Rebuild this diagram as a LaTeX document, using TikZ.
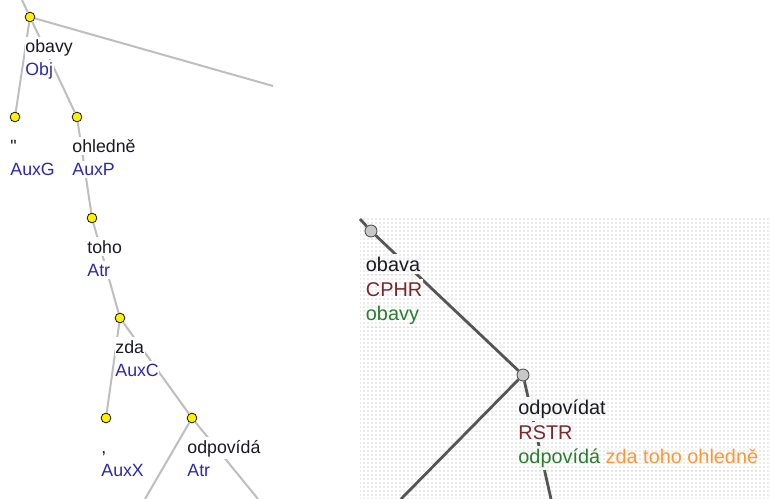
\documentclass[tikz,border=0pt]{standalone}
\usepackage{fontspec}
\setmainfont{Liberation Sans}
\newfontfamily\plainsans{Liberation Sans}
\usetikzlibrary{patterns}
\definecolor{ledge}{RGB}{190,190,190}
\definecolor{dedge}{RGB}{85,85,85}
\definecolor{afunblue}{RGB}{45,40,170}
\definecolor{txtdark}{RGB}{25,25,35}
\definecolor{tmaroon}{RGB}{120,40,45}
\definecolor{tgreen}{RGB}{40,125,45}
\definecolor{torange}{RGB}{255,150,50}
\definecolor{gnode}{RGB}{200,200,200}
\definecolor{dots}{RGB}{170,170,170}
\tikzset{
  anode/.style={circle,fill=yellow,draw=black,line width=0.55pt,minimum size=7.3pt,inner sep=0pt},
  tnode/.style={circle,fill=gnode,draw=dedge,line width=0.7pt,minimum size=9pt,inner sep=0pt},
  aedge/.style={draw=ledge,line width=1.5pt},
  tedge/.style={draw=dedge,line width=2.1pt},
  alab/.style={anchor=base west,inner xsep=0.5pt,inner ysep=2pt,fill=white,font=\fontsize{13.3pt}{16pt}\selectfont},
  tlab/.style={anchor=base west,inner xsep=0.5pt,inner ysep=2pt,preaction={fill=white},pattern=dots,pattern color=dots,font=\fontsize{14.9pt}{18pt}\selectfont},
}
\begin{document}
\begin{tikzpicture}[x=0.75pt,y=-0.75pt]
\useasboundingbox (0,0) rectangle (770,499);
\fill[white] (0,0) rectangle (770,499);
\path[pattern=dots,pattern color=dots] (360,218) rectangle (770,499);

% analytical tree nodes
\node[anode] (obavy) at (30,17) {};
\node[anode] (auxg) at (15,117) {};
\node[anode] (ohledne) at (77,117) {};
\node[anode] (toho) at (92,218) {};
\node[anode] (zda) at (120,318) {};
\node[anode] (carka) at (106,418) {};
\node[anode] (odpovida) at (192,418) {};

\coordinate (aup) at (22,0);
\coordinate (aright) at (273,86);
\coordinate (adl) at (145,499);
\coordinate (adr) at (258,499);

\draw[aedge] (aup) -- (obavy);
\draw[aedge] (obavy) -- (aright);
\draw[aedge] (obavy) -- (auxg);
\draw[aedge] (obavy) -- (ohledne);
\draw[aedge] (ohledne) -- (toho);
\draw[aedge] (toho) -- (zda);
\draw[aedge] (zda) -- (carka);
\draw[aedge] (zda) -- (odpovida);
\draw[aedge] (odpovida) -- (adl);
\draw[aedge] (odpovida) -- (adr);

% analytical labels
\node[alab,text=txtdark] (l1a) at (24.5,52.5) {obavy};
\node[alab,text=afunblue] (l1b) at (24.5,75.5) {Obj};
\node[alab,text=txtdark] (l2a) at (9.5,152.5) {{\plainsans"}};
\node[alab,text=afunblue] (l2b) at (9.5,175.5) {AuxG};
\node[alab,text=txtdark] (l3a) at (71.5,152.5) {ohledně};
\node[alab,text=afunblue] (l3b) at (71.5,175.5) {AuxP};
\node[alab,text=txtdark] (l4a) at (86.5,253) {toho};
\node[alab,text=afunblue] (l4b) at (86.5,276) {Atr};
\node[alab,text=txtdark] (l5a) at (114.5,353) {zda};
\node[alab,text=afunblue] (l5b) at (114.5,376) {AuxC};
\node[alab,text=txtdark] (l6a) at (100.5,453) {,};
\node[alab,text=afunblue] (l6b) at (100.5,476) {AuxX};
\node[alab,text=txtdark] (l7a) at (186.5,453) {odpovídá};
\node[alab,text=afunblue] (l7b) at (186.5,476) {Atr};

% tectogrammatical tree
\node[tnode] (obava) at (371,231) {};
\node[tnode] (odpovidat) at (523,375) {};
\coordinate (tup) at (360,219);
\coordinate (tdl) at (401,499);
\coordinate (tdr) at (551,499);

\draw[tedge] (tup) -- (obava);
\draw[tedge] (obava) -- (odpovidat);
\draw[tedge] (odpovidat) -- (tdl);
\draw[tedge] (odpovidat) -- (tdr);

\node[tlab,text=txtdark] (r1a) at (365,271.5) {obava};
\node[tlab,text=tmaroon] (r1b) at (365,296) {CPHR};
\node[tlab,text=tgreen] (r1c) at (365,320.5) {obavy};
\node[tlab,text=txtdark] (r2a) at (517.5,414) {odpovídat};
\node[tlab,text=tmaroon] (r2b) at (517.5,439) {RSTR};
\node[tlab] (r2c) at (517.5,463.5) {\textcolor{tgreen}{odpovídá} \textcolor{torange}{zda toho ohledně}};
\end{tikzpicture}
\end{document}
